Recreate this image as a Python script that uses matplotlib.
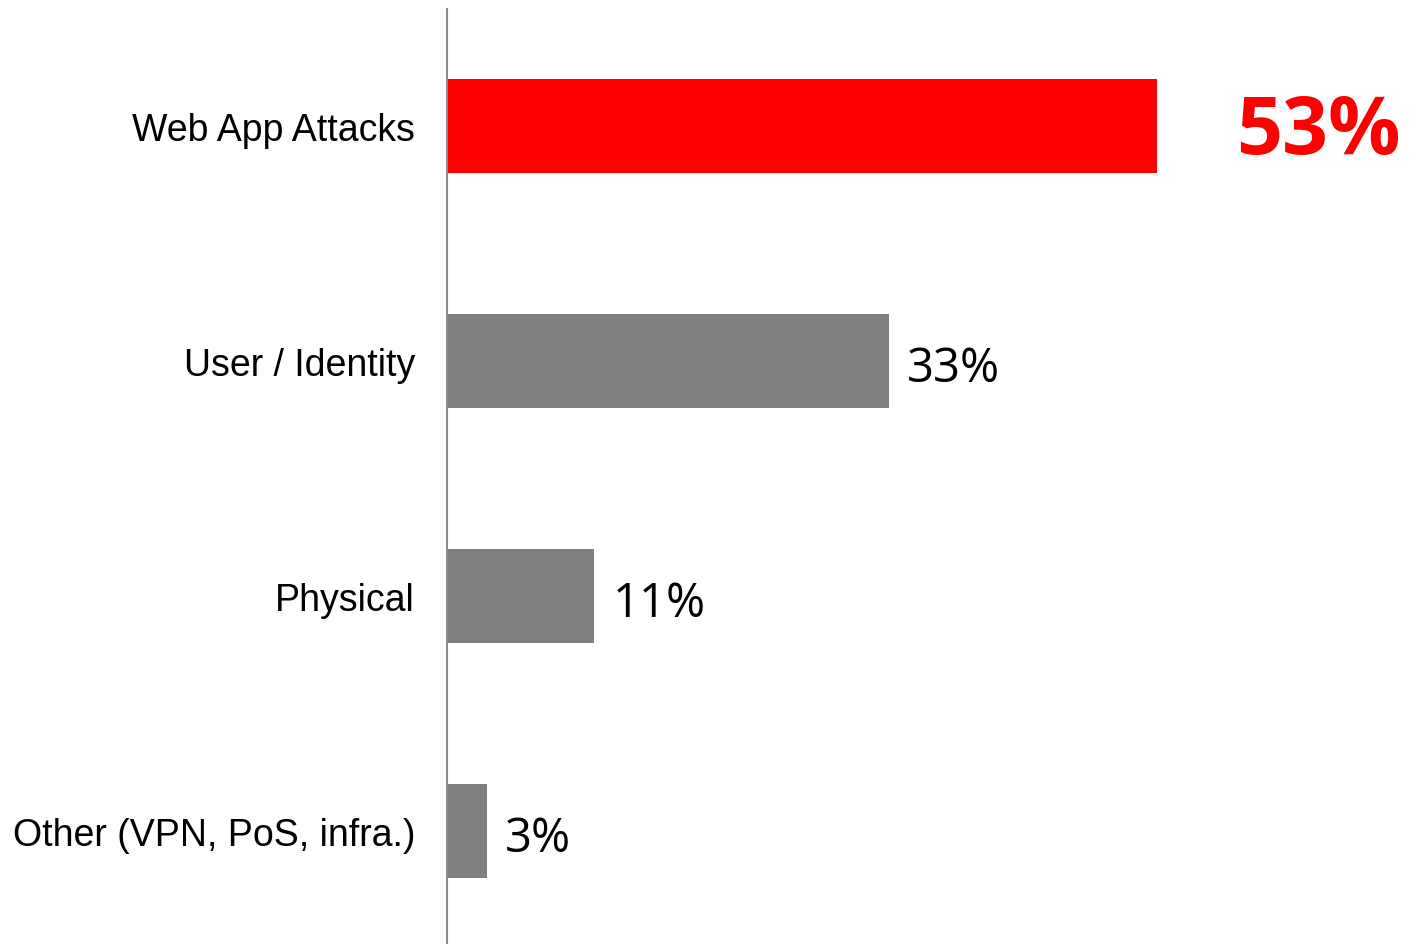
import matplotlib
matplotlib.use('Agg')
from matplotlib import pyplot as plt

categories = ['Web App Attacks', 'User / Identity', 'Physical', 'Other (VPN, PoS, infra.)']
values = [53, 33, 11, 3]
labels = ['53%', '33%', '11%', '3%']
colors = ['#ff0000', '#808080', '#808080', '#808080']


def main():
    fig = plt.figure(figsize=(14.19, 9.45), dpi=100)
    ax = fig.add_axes([447 / 1419, -5 / 945, 1 - 447 / 1419, 940.5 / 945])
    ax.barh(range(len(values)), values, height=0.4, color=colors)
    ax.set_ylim(3.5, -0.5)
    ax.set_xlim(0, 72.6)

    for s in ['top', 'right', 'bottom']:
        ax.spines[s].set_visible(False)
    ax.spines['left'].set_color('#8c8c8c')
    ax.spines['left'].set_linewidth(1.5)
    ax.set_xticks([])
    ax.set_yticks(range(len(categories)))
    ax.set_yticklabels(categories, fontsize=27, family=['Liberation Sans', 'DejaVu Sans'])
    ax.tick_params(axis='y', length=0, pad=23)

    for i, (v, lab) in enumerate(zip(values, labels)):
        if i == 0:
            ax.annotate(lab, (v, i), xytext=(57, -4), textcoords='offset points',
                        va='center', ha='left', fontsize=58, fontweight='bold',
                        color='#ff0000', family=['Open Sans', 'DejaVu Sans'])
        else:
            ax.annotate(lab, (v, i), xytext=(13, -5), textcoords='offset points',
                        va='center', ha='left', fontsize=34,
                        color='black', family=['Open Sans', 'DejaVu Sans'])

    fig.savefig('out.png', dpi=100)


if __name__ == '__main__':
    main()
